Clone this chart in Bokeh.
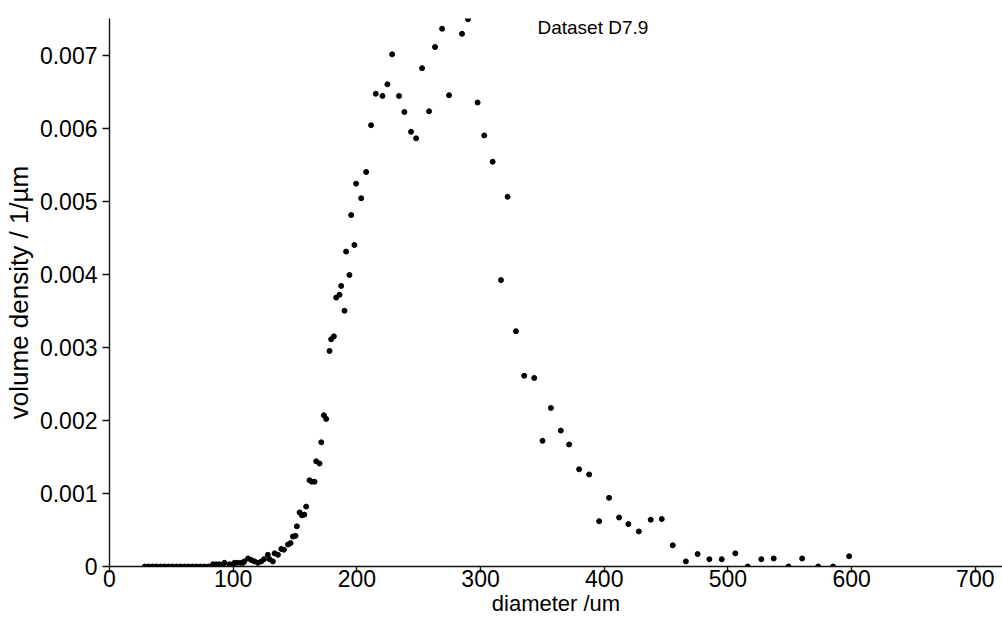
from bokeh.plotting import figure
from bokeh.models import FixedTicker, CustomJSTickFormatter, Label, Range1d
from bokeh.embed import file_html
from bokeh.resources import INLINE

# diameter (um)
diameter = [
    28.5, 31.7, 34.9, 38.1, 41.4, 44.6, 47.8, 51.0, 54.3, 57.5, 60.7, 63.9, 67.2, 70.4, 73.6, 76.8, 80.1,
    83.7, 86.3, 88.9, 91.8, 93.0, 97.0, 99.8, 101.0, 103.5, 106.0, 108.0, 109.0, 112.0, 114.6, 117.3,
    120.0, 122.7, 124.9, 128.0, 129.4, 132.1, 133.5, 136.2, 138.9, 141.0, 144.3, 146.4, 148.3, 150.4,
    151.5, 153.7, 155.6, 157.5, 159.0, 161.7, 163.6, 165.8, 167.1, 169.8, 171.2, 173.3, 175.2, 177.9,
    179.2, 181.4, 183.3, 186.0, 187.3, 190.0, 191.3, 194.0, 195.4, 198.0, 199.4, 203.5, 207.5, 211.5,
    215.3, 220.7, 224.7, 228.5, 234.1, 238.4, 243.8, 247.9, 252.7, 258.4, 263.2, 268.9, 274.5, 285.0,
    289.8, 297.6, 303.0, 309.8, 316.5, 321.9, 328.6, 335.3, 343.4, 350.1, 356.9, 364.9, 371.6, 379.7,
    387.8, 395.9, 403.9, 412.0, 419.5, 428.0, 437.6, 446.5, 455.4, 466.0, 475.5, 485.0, 495.0, 506.0,
    516.0, 527.0, 537.0, 549.0, 560.0, 573.0, 585.0, 598.0,
]

# volume density (1/um)
density = [
    0, 0, 0, 0, 0, 0, 0, 0, 0, 0, 0, 0, 0, 0, 0, 0, 0,
    0.00003, 0.00003, 0.00003, 0.0, 0.00005, 0.00003, 0.00003, 0.00005, 0.00005, 0.00005, 0.00005,
    0.00007, 0.00011, 0.00009, 0.00007,
    0.00005, 0.00007, 0.00010, 0.00016, 0.00010, 0.00007, 0.00018, 0.00016, 0.00024, 0.00023,
    0.00030, 0.00032, 0.00041, 0.00042,
    0.00055, 0.00074, 0.00070, 0.00071, 0.00082, 0.00118, 0.00116, 0.00116, 0.00144, 0.00141,
    0.00170, 0.00207, 0.00202, 0.00295,
    0.00311, 0.00315, 0.00368, 0.00372, 0.00384, 0.00350, 0.00431, 0.00399, 0.00481, 0.00440,
    0.00524, 0.00504, 0.00540, 0.00604,
    0.00647, 0.00644, 0.00660, 0.00701, 0.00644, 0.00622, 0.00595, 0.00586, 0.00682, 0.00623,
    0.00711, 0.00736, 0.00645, 0.00729,
    0.00749, 0.00635, 0.00590, 0.00554, 0.00392, 0.00506, 0.00322, 0.00261, 0.00258, 0.00172,
    0.00217, 0.00186, 0.00167, 0.00133,
    0.00126, 0.00062, 0.00094, 0.00067, 0.00058, 0.00048, 0.00064, 0.00065, 0.00029, 0.00007,
    0.00017, 0.00010, 0.00010, 0.00018,
    0.0, 0.00010, 0.00011, 0.0, 0.00011, 0.0, 0.0, 0.00014,
]

x_ticks = [0, 100, 200, 300, 400, 500, 600, 700]
y_ticks = [0, 0.001, 0.002, 0.003, 0.004, 0.005, 0.006, 0.007]
x_title = "diameter /um"
y_title = "volume density / 1/\u00b5m"
series_name = "Dataset D7.9"

FONT = "Liberation Sans"

p = figure(width=1002, height=621, output_backend="svg", toolbar_location=None,
           x_range=Range1d(0, 722), y_range=Range1d(0, 0.0075),
           min_border_left=108, min_border_right=0, min_border_top=18, min_border_bottom=55)
p.outline_line_color = None
p.xgrid.visible = False
p.ygrid.visible = False
p.background_fill_color = "white"

p.scatter(diameter, density, marker="circle", size=5, color="black")

for ax in (p.xaxis, p.yaxis):
    ax.axis_line_color = "#111111"
    ax.axis_line_width = 1.4
    ax.major_tick_line_color = "#111111"
    ax.major_tick_line_width = 1.4
    ax.minor_tick_line_color = None
    ax.major_tick_in = 0
    ax.major_label_text_font = FONT
    ax.major_label_text_font_size = "23px"
    ax.major_label_text_color = "black"
    ax.axis_label_text_font = FONT
    ax.axis_label_text_font_style = "normal"
    ax.axis_label_text_color = "black"

p.xaxis.ticker = FixedTicker(ticks=x_ticks)
p.yaxis.ticker = FixedTicker(ticks=y_ticks)
p.yaxis.formatter = CustomJSTickFormatter(code="return tick == 0 ? '0' : tick.toFixed(3);")
p.xaxis.major_tick_out = 6
p.yaxis.major_tick_out = 7
p.xaxis.major_label_standoff = -3
p.yaxis.major_label_standoff = 5
p.xaxis.axis_label = x_title
p.yaxis.axis_label = y_title
p.xaxis.axis_label_text_font_size = "22px"
p.yaxis.axis_label_text_font_size = "26px"
p.xaxis.axis_label_standoff = 1
p.yaxis.axis_label_standoff = 3

p.add_layout(Label(x=346, y=0.00737, text=series_name, text_font=FONT, text_font_size="19px",
                   text_baseline="middle", text_align="left", text_color="black"))

open("out.html", "w").write(file_html(p, INLINE))
